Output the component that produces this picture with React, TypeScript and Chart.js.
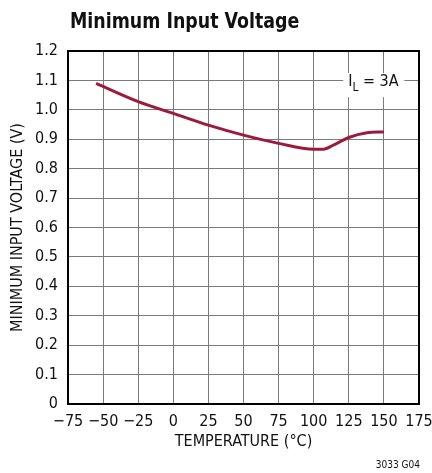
import React, { useEffect, useRef } from "react";
import { Chart, registerables } from "chart.js";

Chart.register(...registerables);

const temperatures = [-55, -25, 0, 25, 50, 75, 100, 107, 114, 125, 138, 150];
const voltages = [1.09, 1.028, 0.988, 0.948, 0.914, 0.886, 0.866, 0.866, 0.88, 0.906, 0.922, 0.925];
const xTicks = [-75, -50, -25, 0, 25, 50, 75, 100, 125, 150, 175];
const yTicks = [0, 0.1, 0.2, 0.3, 0.4, 0.5, 0.6, 0.7, 0.8, 0.9, 1.0, 1.1, 1.2];

const TITLE = "Minimum Input Voltage";
const X_TITLE = "TEMPERATURE (°C)";
const Y_TITLE = "MINIMUM INPUT VOLTAGE (V)";
const NOTE = "3033 G04";

const FONT = '"Liberation Sans Narrow", "DejaVu Sans Condensed", "Liberation Sans", sans-serif';

export default function App() {
  const ref = useRef<HTMLCanvasElement>(null);
  useEffect(() => {
    if (!ref.current) return;
    const decor = {
      id: "decor",
      beforeDatasetsDraw(chart: any) {
        const { ctx } = chart;
        const xs = chart.scales.x;
        const ys = chart.scales.y;
        const x1 = xs.getPixelForValue(121);
        const x2 = xs.getPixelForValue(164.5);
        const y1 = ys.getPixelForValue(1.125);
        const y2 = ys.getPixelForValue(1.043);
        ctx.save();
        ctx.fillStyle = "#ffffff";
        ctx.fillRect(x1, y1, x2 - x1, y2 - y1);
        ctx.restore();
      },
      afterDraw(chart: any) {
        const { ctx, chartArea } = chart;
        const xs = chart.scales.x;
        const ys = chart.scales.y;
        ctx.save();
        ctx.strokeStyle = "#000";
        ctx.lineWidth = 2;
        ctx.strokeRect(chartArea.left, chartArea.top, chartArea.right - chartArea.left, chartArea.bottom - chartArea.top);
        ctx.fillStyle = "#111";
        ctx.save();
        ctx.font = `bold 22px ${FONT}`;
        ctx.textAlign = "left";
        ctx.textBaseline = "alphabetic";
        ctx.translate(70, 28);
        ctx.scale(0.88, 1);
        ctx.fillText(TITLE, 0, 0);
        ctx.restore();
        ctx.font = `16px ${FONT}`;
        ctx.textAlign = "center";
        ctx.textBaseline = "middle";
        ctx.fillText(X_TITLE, (chartArea.left + chartArea.right) / 2, 442);
        ctx.save();
        ctx.translate(18, (chartArea.top + chartArea.bottom) / 2);
        ctx.rotate(-Math.PI / 2);
        ctx.fillText(Y_TITLE, 0, 0);
        ctx.restore();
        ctx.font = `10px ${FONT}`;
        ctx.textAlign = "right";
        ctx.fillText(NOTE, 420, 465);
        const cx = xs.getPixelForValue(142.5);
        const by = ys.getPixelForValue(1.1) + 6;
        ctx.textAlign = "left";
        ctx.textBaseline = "alphabetic";
        ctx.font = `16px ${FONT}`;
        const wI = ctx.measureText("I").width;
        ctx.font = `12px ${FONT}`;
        const wL = ctx.measureText("L").width;
        ctx.font = `16px ${FONT}`;
        const rest = " = 3A";
        const wR = ctx.measureText(rest).width;
        let sx = cx - (wI + wL + wR) / 2;
        ctx.fillText("I", sx, by);
        sx += wI;
        ctx.font = `12px ${FONT}`;
        ctx.fillText("L", sx, by + 5);
        sx += wL;
        ctx.font = `16px ${FONT}`;
        ctx.fillText(rest, sx, by);
        ctx.restore();
      },
    };
    const chart = new Chart(ref.current, {
      type: "line",
      data: {
        datasets: [
          {
            data: temperatures.map((t, i) => ({ x: t, y: voltages[i] })),
            borderColor: "#9e1a3c",
            borderWidth: 3,
            pointRadius: 0,
            cubicInterpolationMode: "monotone",
            fill: false,
          },
        ],
      },
      options: {
        animation: false,
        responsive: false,
        events: [],
        layout: { padding: { left: 0, right: 13, top: 51, bottom: 0 } },
        plugins: { legend: { display: false }, tooltip: { enabled: false }, title: { display: false } },
        scales: {
          x: {
            type: "linear",
            min: -75,
            max: 175,
            afterBuildTicks: (s: any) => {
              s.ticks = xTicks.map((v) => ({ value: v }));
            },
            afterFit: (s: any) => {
              s.height = 69;
              s.paddingRight = 0;
              s.paddingLeft = 0;
            },
            grid: { color: "#7a7a7a", lineWidth: 1, drawTicks: false },
            border: { display: false },
            ticks: {
              color: "#111",
              padding: 8,
              maxRotation: 0,
              autoSkip: false,
              font: { family: FONT, size: 16 },
              callback: (v: any) => (Number(v) < 0 ? "\u2212" + Math.abs(Number(v)) : String(v)),
            },
          },
          y: {
            type: "linear",
            min: 0,
            max: 1.2,
            afterBuildTicks: (s: any) => {
              s.ticks = yTicks.map((v) => ({ value: v }));
            },
            afterFit: (s: any) => {
              s.width = 68;
              s.paddingTop = 0;
              s.paddingBottom = 0;
            },
            grid: { color: "#7a7a7a", lineWidth: 1, drawTicks: false },
            border: { display: false },
            ticks: {
              color: "#111",
              padding: 10,
              autoSkip: false,
              font: { family: FONT, size: 16 },
              callback: (v: any) => (Number(v) === 0 ? "0" : Number(v).toFixed(1)),
            },
          },
        },
      },
      plugins: [decor],
    } as any);
    return () => chart.destroy();
  }, []);
  return (
    <div style={{ position: "fixed", left: 0, top: 0, width: 432, height: 473, background: "#fff" }}>
      <canvas ref={ref} width={432} height={473} style={{ width: 432, height: 473 }} />
    </div>
  );
}
